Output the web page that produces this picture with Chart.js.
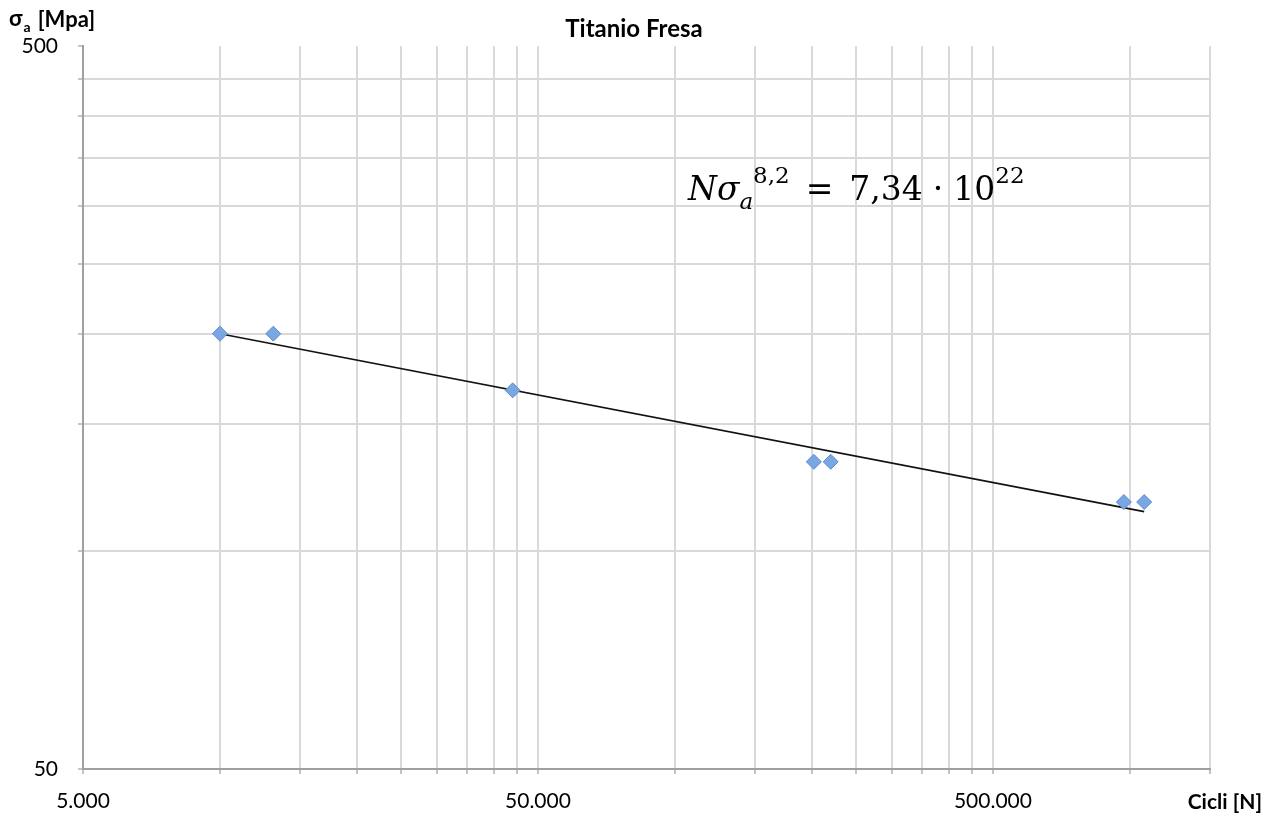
<!DOCTYPE html>
<html>
<head>
<meta charset="utf-8">
<script src="https://cdn.jsdelivr.net/npm/chart.js@4.4.1/dist/chart.umd.min.js"></script>
<style>
  html, body { margin: 0; padding: 0; background: #fff; }
  #wrap { width: 1280px; height: 815px; }
</style>
</head>
<body>
<div id="wrap"><canvas id="chart" width="1280" height="815"></canvas></div>
<script>
// S-N data (log-log)
const chartTitle = 'Titanio Fresa';
const cycles = [10000, 13100, 44000, 202000, 220000, 970000, 1075000];
const stressAmp = [200, 200, 167, 133, 133, 117, 117];

// power trendline endpoints (N*sigma^8.2 = 7.34e22)
const trendCycles = [10000, 1075000];
const trendStress = [200, 113.5];

// axis ticks (Excel-style: gridlines at multiples of the axis minimum)
const xTickValues = [
  5000, 10000, 15000, 20000, 25000, 30000, 35000, 40000, 45000, 50000,
  100000, 150000, 200000, 250000, 300000, 350000, 400000, 450000, 500000,
  1000000, 1500000
];
const xLabelValues = [5000, 50000, 500000];
const xLabelTexts = ['5.000', '50.000', '500.000'];
const yTickValues = [50, 100, 150, 200, 250, 300, 350, 400, 450, 500];
const yLabelValues = [50, 500];
const yLabelTexts = ['50', '500'];

const gridColor = '#d9d9d9';
const axisColor = '#a0a0a0';
const tickFont = { family: 'Lato', size: 21 };

function labelFor(values, texts) {
  return (v) => {
    const i = values.indexOf(v);
    return i >= 0 ? texts[i] : '';
  };
}

const textPlugin = {
  id: 'chartTexts',
  afterDraw(chart) {
    const ctx = chart.ctx;
    ctx.save();
    ctx.fillStyle = '#000';
    ctx.textBaseline = 'alphabetic';

    // title
    ctx.font = 'bold 24px Lato';
    ctx.textAlign = 'center';
    ctx.fillText(chartTitle, 634, 37);

    // axis titles
    ctx.textAlign = 'left';
    ctx.font = 'bold 22px Lato';
    ctx.fillText('σ', 9, 26);
    let x = 9 + ctx.measureText('σ').width + 1;
    ctx.font = 'bold 14px Lato';
    ctx.fillText('a', x, 32);
    x += ctx.measureText('a').width + 7;
    ctx.font = 'bold 22px Lato';
    ctx.fillText('[Mpa]', x, 27);

    ctx.font = 'bold 21px Lato';
    ctx.textAlign = 'right';
    ctx.fillText('Cicli [N]', 1262, 809);

    // equation of the trendline
    ctx.textAlign = 'left';
    const big = '33px "DejaVu Serif"';
    const small = '23px "DejaVu Serif"';
    const parts = [
      { t: 'N', f: 'italic ' + big, dy: 0, gap: 0 },
      { t: 'σ', f: 'italic ' + big, dy: 0, gap: 0 },
      { t: 'a', f: 'italic ' + small, dy: 9, gap: 0 },
      { t: '8,2', f: small, dy: -17, gap: 16 },
      { t: '=', f: big, dy: 0, gap: 16 },
      { t: '7,34', f: big, dy: 0, gap: 10 },
      { t: '·', f: big, dy: 0, gap: 10 },
      { t: '10', f: big, dy: 0, gap: 0 },
      { t: '22', f: small, dy: -17, gap: 0 }
    ];
    let ex = 688;
    const ey = 200;
    for (const p of parts) {
      ctx.font = p.f;
      ctx.fillText(p.t, ex, ey + p.dy);
      ex += ctx.measureText(p.t).width + p.gap;
    }
    ctx.restore();
  }
};

new Chart(document.getElementById('chart'), {
  type: 'scatter',
  data: {
    datasets: [
      {
        type: 'line',
        label: 'Trend',
        data: trendCycles.map((n, i) => ({ x: n, y: trendStress[i] })),
        borderColor: '#111',
        borderWidth: 1.6,
        pointRadius: 0,
        fill: false,
        order: 2
      },
      {
        label: 'Titanio Fresa',
        data: cycles.map((n, i) => ({ x: n, y: stressAmp[i] })),
        pointStyle: 'rectRot',
        pointRadius: 7.5,
        backgroundColor: '#78a7e3',
        borderColor: '#5d8ccc',
        borderWidth: 1,
        order: 1
      }
    ]
  },
  options: {
    responsive: false,
    animation: false,
    layout: { padding: { left: 0, top: 46, right: 70, bottom: 0 } },
    plugins: {
      legend: { display: false },
      tooltip: { enabled: false },
      title: { display: false }
    },
    scales: {
      x: {
        type: 'logarithmic',
        min: 5000,
        max: 1500000,
        afterBuildTicks: (s) => { s.ticks = xTickValues.map(v => ({ value: v })); },
        afterFit: (s) => { s.height = 46; },
        border: { color: axisColor, width: 2 },
        grid: { color: gridColor, lineWidth: 2, tickLength: 5, tickColor: '#c4c4c4' },
        ticks: {
          autoSkip: false,
          maxRotation: 0,
          padding: 15,
          color: '#000',
          font: tickFont,
          callback: labelFor(xLabelValues, xLabelTexts)
        }
      },
      y: {
        type: 'logarithmic',
        min: 50,
        max: 500,
        afterBuildTicks: (s) => { s.ticks = yTickValues.map(v => ({ value: v })); },
        afterFit: (s) => { s.width = 83; },
        border: { color: axisColor, width: 2 },
        grid: {
          color: (c) => (c.tick && c.tick.value === 500 ? 'rgba(0,0,0,0)' : gridColor),
          lineWidth: 2,
          tickLength: 5,
          tickColor: '#c4c4c4'
        },
        ticks: {
          autoSkip: false,
          padding: 20,
          color: '#000',
          font: tickFont,
          callback: labelFor(yLabelValues, yLabelTexts)
        }
      }
    }
  },
  plugins: [textPlugin]
});
</script>
</body>
</html>
